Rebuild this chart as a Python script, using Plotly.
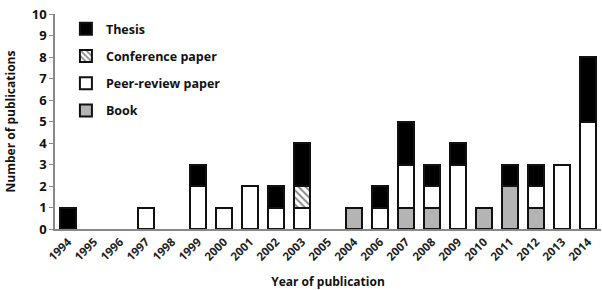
import plotly.graph_objects as go

years = ["1994", "1995", "1996", "1997", "1998", "1999", "2000", "2001", "2002", "2003",
         "2005", "2004", "2006", "2007", "2008", "2009", "2010", "2011", "2012", "2013", "2014"]
book =       [0, 0, 0, 0, 0, 0, 0, 0, 0, 0, 0, 1, 0, 1, 1, 0, 1, 2, 1, 0, 0]
peer_review = [0, 0, 0, 1, 0, 2, 1, 2, 1, 1, 0, 0, 1, 2, 1, 3, 0, 0, 1, 3, 5]
conference = [0, 0, 0, 0, 0, 0, 0, 0, 0, 1, 0, 0, 0, 0, 0, 0, 0, 0, 0, 0, 0]
thesis =     [1, 0, 0, 0, 0, 1, 0, 0, 1, 2, 0, 0, 1, 2, 1, 1, 0, 1, 1, 0, 3]


def nz(vals):
    return [v if v else None for v in vals]


FONT = "Open Sans"
line = dict(color="#111111", width=2)

fig = go.Figure()
fig.add_trace(go.Bar(x=years, y=nz(book), name="Book", legendgroup="b", legendrank=4,
                     marker=dict(color="#b4b4b4", line=line)))
fig.add_trace(go.Bar(x=years, y=nz(peer_review), name="Peer-review paper", legendgroup="p", legendrank=3,
                     marker=dict(color="#ffffff", line=line)))
fig.add_trace(go.Bar(x=years, y=nz(conference), name="Conference paper", legendgroup="c", legendrank=2,
                     marker=dict(color="#ffffff", line=line,
                                 pattern=dict(shape="\\", fgcolor="#111111", bgcolor="#ffffff",
                                              size=5, solidity=0.4))))
fig.add_trace(go.Bar(x=years, y=nz(thesis), name="Thesis", legendgroup="t", legendrank=1,
                     marker=dict(color="#000000", line=line)))

fig.update_layout(
    width=602, height=290,
    margin=dict(l=55, r=1, t=14, b=61),
    barmode="stack", bargap=0.38,
    plot_bgcolor="white", paper_bgcolor="white",
    font=dict(family=FONT, color="#222222"),
    showlegend=True,
    legend=dict(x=0.02, y=1.0, xanchor="left", yanchor="top",
                traceorder="grouped", tracegroupgap=8,
                font=dict(family=FONT, size=12.5, color="#111111", weight="bold"),
                bgcolor="rgba(0,0,0,0)", itemwidth=30),
    xaxis=dict(type="category", categoryorder="array", categoryarray=years,
               automargin=False,
               tickangle=-45, showline=True, linecolor="#888888", linewidth=1.5,
               ticks="", tickfont=dict(family=FONT, size=11.5, color="#222222", weight="bold"),
               title=dict(text="Year of publication", standoff=17,
                          font=dict(family=FONT, size=12, color="#111111", weight="bold"))),
    yaxis=dict(range=[0, 10], dtick=1, showgrid=False, zeroline=False,
               automargin=False,
               showline=True, linecolor="#888888", linewidth=1.5,
               ticks="outside", ticklen=4, tickcolor="#888888",
               tickfont=dict(family=FONT, size=13, color="#111111", weight="bold"),
               title=dict(text="Number of publications", standoff=14,
                          font=dict(family=FONT, size=12, color="#111111", weight="bold"))),
)

fig.write_html("out.html", config={"displayModeBar": False},
               post_script="document.body.style.margin='0';")
